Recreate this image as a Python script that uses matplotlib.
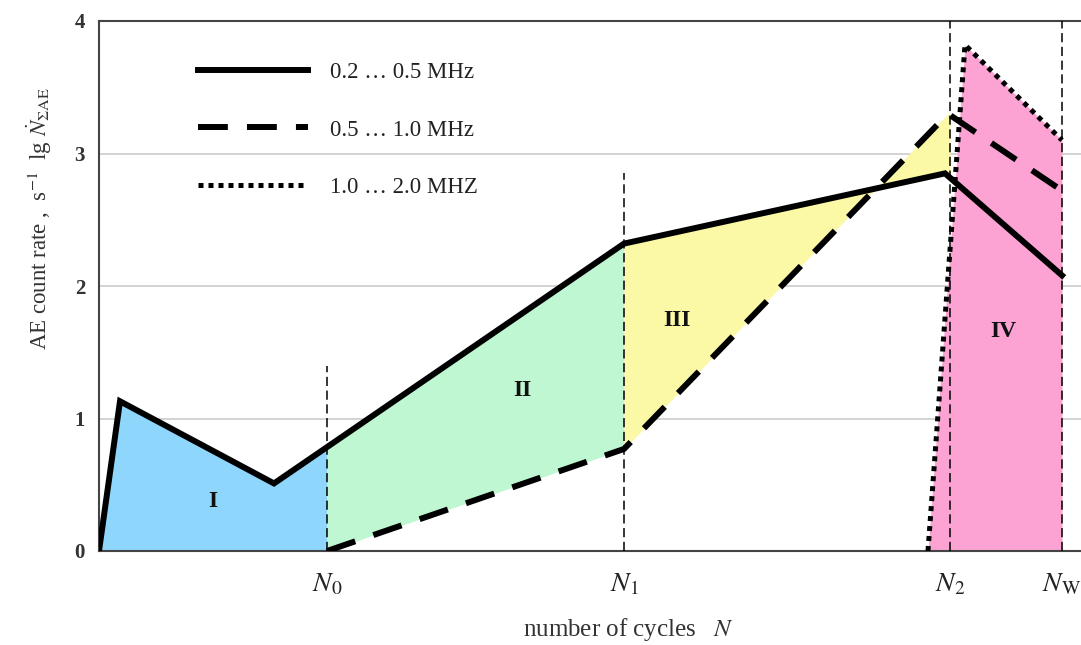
import numpy as np
import matplotlib.pyplot as plt

plt.rcParams['font.family'] = 'Liberation Serif'
plt.rcParams['mathtext.fontset'] = 'stix'

# characteristic cycle numbers (arbitrary units along the N axis)
N0, N1, N2, NW = 22.8, 52.5, 85.1, 96.3
tick_pos = [N0, N1, N2, NW]
tick_labels = [r'$N_0$', r'$N_1$', r'$N_2$', r'$N_\mathrm{W}$']

# AE count rate, lg N  for three frequency bands
x_low = [0, 2.1, 17.5, 52.5, 84.6, 96.3]
y_low = [0, 1.13, 0.51, 2.32, 2.85, 2.08]

x_mid = [22.8, 52.5, 84.9, 96.3]
y_mid = [0, 0.77, 3.30, 2.72]

x_high = [82.9, 86.6, 96.3]
y_high = [0, 3.82, 3.10]

# height of the vertical stage markers
marker_top = [1.40, 2.85, 4.0, 4.0]

stage_names = ['I', 'II', 'III', 'IV']
stage_x = [11.4, 42.3, 57.8, 90.4]
stage_y = [0.37, 1.21, 1.74, 1.66]

fig = plt.figure(figsize=(10.81, 6.45), dpi=100)
ax = fig.add_axes([99 / 1081, 1 - 551 / 645, 1 - 99 / 1081, 530 / 645])


def span(xs, a, b):
    # breakpoints of a polyline inside [a, b] plus the ends
    pts = [a] + [v for v in xs if a < v < b] + [b]
    return np.array(pts)


# stage I: under the low band curve up to N0
xs = span(x_low, 0, N0)
ax.fill_between(xs, 0, np.interp(xs, x_low, y_low), color='#8fd6fd', lw=0)

# stage II: between low and mid bands, N0..N1
xs = span(x_low + x_mid, N0, N1)
ax.fill_between(xs, np.interp(xs, x_mid, y_mid), np.interp(xs, x_low, y_low),
                color='#bff7d2', lw=0)

# stage III: between low and mid bands, N1..N2
xs = span(x_low + x_mid, N1, N2)
ax.fill_between(xs, np.interp(xs, x_mid, y_mid), np.interp(xs, x_low, y_low),
                color='#fbf8a6', lw=0)

# stage IV: under the high band curve up to NW
xs = span(x_high, x_high[0], NW)
ax.fill_between(xs, 0, np.interp(xs, x_high, y_high), color='#fca3d3', lw=0)

# stage boundaries
for xp, top in zip(tick_pos, marker_top):
    ax.plot([xp, xp], [0, top], color='black', lw=1.1, dashes=(6, 3), zorder=3)

ax.plot(x_low, y_low, color='black', lw=4.3, solid_joinstyle='miter',
        label='0.2 … 0.5 MHz', zorder=4)
ax.plot(x_mid, y_mid, color='black', lw=4.3, dashes=(5, 3.2),
        dash_capstyle='butt', label='0.5 … 1.0 MHz', zorder=4)
ax.plot(x_high, y_high, color='black', lw=3.6, dashes=(1, 1),
        dash_capstyle='butt', label='1.0 … 2.0 MHZ', zorder=4)

for name, sx, sy in zip(stage_names, stage_x, stage_y):
    ax.text(sx, sy, name, fontsize=17, fontweight='bold', ha='center',
            va='center', color='#111111', zorder=5)

ax.set_xlim(0, 98.2)
ax.set_ylim(0, 4)
ax.set_yticks([0, 1, 2, 3, 4])
ax.set_yticklabels(['0', '1', '2', '3', '4'], fontsize=15, fontweight='bold',
                   color='#333333')
ax.set_xticks(tick_pos)
ax.set_xticklabels(tick_labels, fontsize=20, color='#222222')
ax.tick_params(axis='both', length=0)
ax.tick_params(axis='y', pad=10)
ax.tick_params(axis='x', pad=15)
ax.grid(axis='y', color='#cccccc', lw=1.2)
ax.set_axisbelow(True)

for side in ['left', 'bottom', 'top']:
    ax.spines[side].set_color('#444444')
    ax.spines[side].set_linewidth(1.5)
ax.spines['right'].set_visible(False)

ax.set_xlabel(r'number of cycles   $N$', fontsize=18, color='#333333', va='center')
ax.xaxis.set_label_coords(0.539, -0.149)
ax.set_ylabel(r'AE count rate ,  s$^{-1}$  lg $\dot{N}_{\Sigma\mathrm{AE}}$',
              fontsize=16.5, color='#333333')
ax.yaxis.set_label_coords(-0.046, 0.628)

ax.legend(loc='upper left', bbox_to_anchor=(0.08, 0.962), frameon=False,
          fontsize=16.5, handlelength=4.8, handletextpad=0.95, labelspacing=1.6,
          labelcolor='#222222')

fig.savefig('out.png', dpi=100)
